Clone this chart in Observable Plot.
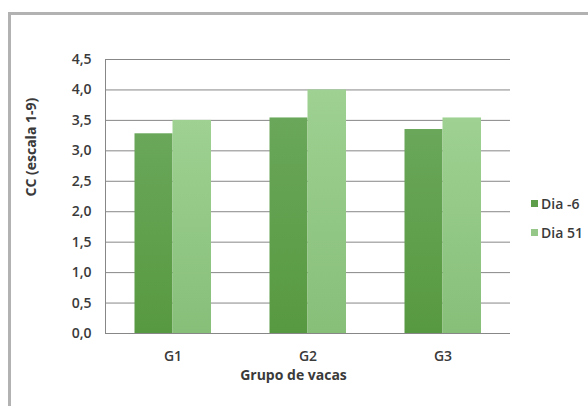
<!DOCTYPE html>
<html>
<head>
<meta charset="utf-8">
<script src="https://cdn.jsdelivr.net/npm/d3@7"></script>
<script src="https://cdn.jsdelivr.net/npm/@observablehq/plot@0.6"></script>
<style>
  html, body { margin: 0; padding: 0; background: #fff; }
  #wrap { position: relative; width: 588px; height: 406px; overflow: hidden; font-family: "Open Sans", sans-serif; }
  #border { position: absolute; left: 8px; top: 12px; width: 580px; height: 394px; border-left: 3px solid #b2b2b2; border-top: 3px solid #b2b2b2; pointer-events: none; }
  #legend { position: absolute; left: 531px; top: 189px; font-size: 14px; font-weight: 600; color: #3a3a3a; }
  #legend .item { display: flex; align-items: center; height: 29px; white-space: nowrap; }
  #legend .sw { width: 7px; height: 7px; margin-right: 3px; }
</style>
</head>
<body>
<div id="wrap"><div id="border"></div><div id="legend"></div></div>
<script>
const groups = ["G1", "G2", "G3"];
const series = ["Dia -6", "Dia 51"];
const diaMinus6 = [3.28, 3.54, 3.35];
const dia51 = [3.50, 4.00, 3.54];
const yTicks = [0, 0.5, 1, 1.5, 2, 2.5, 3, 3.5, 4, 4.5];
const colors = ["#5e9e4a", "#95c888"];
const yLabel = "CC (escala 1-9)";
const xLabel = "Grupo de vacas";

const rows = groups.flatMap((g, i) => [
  {group: g, series: series[0], value: diaMinus6[i]},
  {group: g, series: series[1], value: dia51[i]}
]);

const fmt = d => d.toFixed(1).replace(".", ",");

const chart = Plot.plot({
  width: 588,
  height: 406,
  marginLeft: 105,
  marginRight: 78,
  marginTop: 59,
  marginBottom: 73,
  style: {fontFamily: "Open Sans, sans-serif", fontSize: "14px", fontWeight: 600, color: "#3a3a3a", background: "transparent"},
  x: {domain: groups, paddingInner: 0, paddingOuter: 0, label: null},
  y: {domain: [0, 4.5], label: null},
  marks: [
    Plot.ruleY(yTicks, {stroke: "#878787", strokeWidth: 1}),
    Plot.frame({anchor: "left", stroke: "#878787"}),
    Plot.barY(rows.filter(d => d.series === series[0]), {x: "group", y: "value", fill: "url(#gDark)", insetLeft: 29.5, insetRight: 67.5}),
    Plot.barY(rows.filter(d => d.series === series[1]), {x: "group", y: "value", fill: "url(#gLight)", insetLeft: 67.5, insetRight: 29}),
    Plot.axisY(yTicks, {tickSize: 0, tickPadding: 14, tickFormat: fmt, label: null}),
    Plot.axisX({tickSize: 0, tickPadding: 18, label: null}),
    Plot.text([yLabel], {text: d => d, frameAnchor: "left", rotate: -90, dx: -74, fontWeight: "bold", fontSize: 14, fill: "#3a3a3a"}),
    Plot.text([xLabel], {text: d => d, frameAnchor: "bottom", dy: 46.5, dx: -14.5, fontWeight: "bold", fontSize: 14, fill: "#3a3a3a"})
  ]
});

const svg = d3.select(chart);
const defs = svg.insert("defs", ":first-child");
const g1 = defs.append("linearGradient").attr("id", "gDark").attr("x1", 0).attr("y1", 0).attr("x2", 0).attr("y2", 1);
g1.append("stop").attr("offset", "0%").attr("stop-color", "#6aa75a");
g1.append("stop").attr("offset", "100%").attr("stop-color", "#579940");
const g2 = defs.append("linearGradient").attr("id", "gLight").attr("x1", 0).attr("y1", 0).attr("x2", 0).attr("y2", 1);
g2.append("stop").attr("offset", "0%").attr("stop-color", "#9ed192");
g2.append("stop").attr("offset", "100%").attr("stop-color", "#87bf79");

const wrap = document.getElementById("wrap");
wrap.insertBefore(chart, wrap.firstChild);
chart.style.position = "absolute";
chart.style.left = "0";
chart.style.top = "0";

const legend = d3.select("#legend");
series.forEach((s, i) => {
  const item = legend.append("div").attr("class", "item");
  item.append("div").attr("class", "sw").style("background", colors[i]);
  item.append("span").text(s);
});
</script>
</body>
</html>
